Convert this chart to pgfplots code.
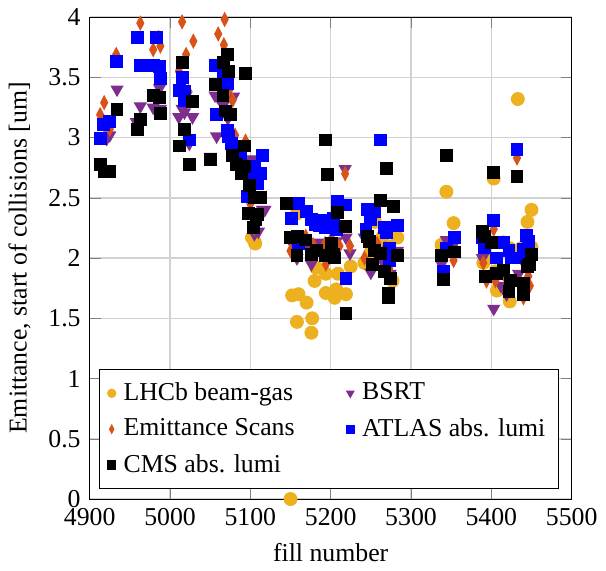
\documentclass[border=0pt]{standalone}
\usepackage{fontspec}
\setmainfont{Liberation Serif}
\usepackage{pgfplots}
\pgfplotsset{compat=1.18}
\definecolor{lhcb}{HTML}{EDB120}
\definecolor{bsrt}{HTML}{7E2F8E}
\definecolor{escan}{HTML}{D95319}

\begin{document}
\begin{tikzpicture}
\begin{axis}[
    width=187pt, height=187pt, scale only axis,
    xmin=4900, xmax=5500, ymin=0, ymax=4,
    xtick={4900,5000,...,5500}, ytick={0,0.5,...,4},
    xlabel={fill number},
    ylabel={Emittance, start of collisions [um]},
    grid=major, major grid style={gray!35, line width=0.6pt},
    /pgf/number format/assume math mode=true,
    xticklabel style={/pgf/number format/1000 sep={}},
    legend columns=2,
    legend style={at={(0.02,0.02)}, anchor=south west, font=\normalsize,
        column sep=1pt, row sep=1.5pt, inner sep=3pt,
        /tikz/every even column/.append style={column sep=18pt}},
    legend cell align=left,
    legend image post style={mark size=1.6pt},
]
\addplot[only marks, mark=*, mark size=2.5pt, color=lhcb] coordinates {
 (5102,2.17) (5105,2.14) (5106,2.12) (5150,0) (5158,2.37) (5182,1.92)
 (5194,1.87) (5209,1.87) (5225,1.93) (5180,1.81) (5152,1.69) (5160,1.70)
 (5170,1.63) (5194,1.71) (5207,1.74) (5205,1.67) (5219,1.70) (5158,1.47)
 (5177,1.50) (5176,1.38) (5283,2.17) (5277,1.81) (5242,1.96) (5255,2.30)
 (5250,2.05) (5344,2.55) (5353,2.29) (5338,2.11) (5403,2.66) (5433,3.32)
 (5450,2.40) (5445,2.30) (5415,2.13) (5423,2.08) (5437,2.08) (5450,2.09)
 (5407,1.73) (5423,1.64) (5390,1.96) (5405,1.89) (5265,2.18) (5270,2.10)
 (5395,2.00)
};
\addlegendentry{LHCb beam-gas}
\addplot[only marks, mark=triangle*, mark size=2.6pt, mark options={rotate=180}, color=bsrt] coordinates {
 (4934,3.40) (4963,3.26) (4979,3.25) (4987,3.41) (4988,3.24) (4958,3.13)
 (4925,3.02) (4921,2.99) (5015,3.24) (5011,3.17) (5028,3.17) (5018,3.21)
 (5024,2.95) (5058,3.01) (5056,3.35) (5077,3.32) (5066,3.28) (5050,2.84)
 (5060,3.33) (5069,3.30) (5079,3.34) (5072,3.16) (5103,2.82)
 (5101,2.80) (5105,2.20) (5115,2.40) (5108,2.30) (5110,2.22) (5118,2.40)
 (5218,2.74) (5172,2.08) (5185,2.13) (5207,2.14) (5219,2.17) (5224,2.04)
 (5158,2.00) (5176,1.95) (5152,2.12) (5250,1.88) (5242,2.17) (5274,1.87)
 (5283,2.06) (5264,1.98) (5198,2.05) (5192,2.10)
 (5344,2.15) (5353,2.11) (5338,1.95) (5403,1.58) (5412,1.77) (5389,2.00)
 (5434,1.87) (5444,1.92) (5419,1.70)
};
\addlegendentry{BSRT}
\addplot[only marks, mark=diamond*, mark size=2.6pt, mark options={xscale=0.7}, color=escan] coordinates {
 (4963,3.95) (4933,3.69) (5015,3.96) (5068,3.98) (5060,3.86) (5029,3.80)
 (5067,3.77) (4979,3.73) (4988,3.76) (4986,3.83) (5020,3.69) (5011,3.55)
 (4918,3.29) (4913,3.19) (4925,3.07) (5074,3.40) (5078,3.31) (5023,3.38)
 (5081,3.02) (5094,2.97) (5096,2.60) (5100,2.45) (5105,2.25)
 (5218,2.70) (5169,2.18) (5150,2.06) (5178,2.11) (5193,2.12) (5201,2.16)
 (5211,2.10) (5224,2.10) (5194,1.95) (5242,2.00) (5258,2.12) (5268,2.08)
 (5273,1.91) (5160,2.15)
 (5432,2.83) (5403,2.24) (5353,1.98) (5340,1.85) (5390,1.96) (5394,1.81)
 (5405,1.81) (5446,1.85) (5448,1.77) (5440,1.67) (5415,1.87)
};
\addlegendentry{Emittance Scans}
\addplot[only marks, mark=square*, mark size=2.3pt, color=blue] coordinates {
 (4960,3.83) (4983,3.83) (4933,3.63) (4963,3.60) (4979,3.60) (4987,3.59)
 (4988,3.49) (5015,3.50) (5012,3.39) (5018,3.38) (5018,3.31) (4917,3.11)
 (4925,3.13) (4913,2.99) (5024,2.98) (5057,3.60) (5067,3.55) (5071,3.45)
 (5058,3.19) (5071,3.06) (5073,3.01) (5077,2.95) (5083,2.90) (5088,2.85)
 (5115,2.85) (5105,2.76) (5113,2.70) (5095,2.70) (5109,2.62) (5096,2.51)
 (5100,2.66) (5107,2.70)
 (5262,2.98) (5160,2.45) (5151,2.33) (5170,2.39) (5176,2.32) (5181,2.28)
 (5186,2.27) (5191,2.31) (5194,2.25) (5198,2.28) (5203,2.33) (5209,2.47)
 (5219,2.44) (5207,2.24) (5219,1.83) (5246,2.40) (5255,2.39) (5250,2.32)
 (5244,2.24) (5267,2.25) (5270,2.21) (5283,2.27) (5273,2.08) (5273,1.98)
 (5160,2.12)
 (5432,2.90) (5403,2.31) (5354,2.17) (5344,2.08) (5340,1.89) (5389,2.17)
 (5392,2.09) (5406,2.00) (5415,2.13) (5422,2.06) (5425,2.00) (5438,2.00)
 (5444,2.19) (5446,2.14) (5440,2.07)
};
\addlegendentry{ATLAS abs. lumi}
\addplot[only marks, mark=square*, mark size=2.3pt, color=black] coordinates {
 (4913,2.78) (4918,2.72) (4925,2.72) (4934,3.23) (4960,3.07) (4963,3.15)
 (4979,3.35) (4987,3.33) (4988,3.20) (5015,3.62) (5028,3.30) (5018,3.07)
 (5012,2.93) (5024,2.78) (5050,2.82) (5057,3.44) (5067,3.62) (5071,3.69)
 (5073,3.55) (5066,3.35) (5069,3.22) (5075,3.19) (5094,3.53) (5093,2.93)
 (5078,2.85) (5083,2.78) (5089,2.70) (5093,2.76) (5099,2.60) (5113,2.50)
 (5105,2.50) (5098,2.37) (5109,2.36) (5104,2.25) (5107,2.32)
 (5145,2.45) (5193,2.98) (5196,2.69) (5269,2.74) (5262,2.48) (5278,2.43)
 (5209,2.38) (5218,2.26) (5150,2.17) (5159,2.18) (5169,2.15) (5158,2.02)
 (5176,2.03) (5182,2.06) (5201,2.12) (5203,2.03) (5194,2.02) (5205,2.00)
 (5219,1.54) (5246,2.18) (5248,2.14) (5255,2.06) (5262,2.04) (5252,1.95)
 (5267,1.89) (5274,1.83) (5283,2.02) (5272,1.71) (5272,1.67)
 (5344,2.85) (5403,2.71) (5432,2.68) (5338,2.02) (5340,1.82) (5354,2.05)
 (5389,2.22) (5392,2.18) (5400,2.13) (5450,2.03) (5445,1.93) (5393,1.85)
 (5406,1.87) (5415,1.90) (5424,1.81) (5422,1.72) (5440,1.79) (5440,1.70)
 (5447,1.95)
};
\addlegendentry{CMS abs. lumi}
\end{axis}
\end{tikzpicture}
\end{document}
